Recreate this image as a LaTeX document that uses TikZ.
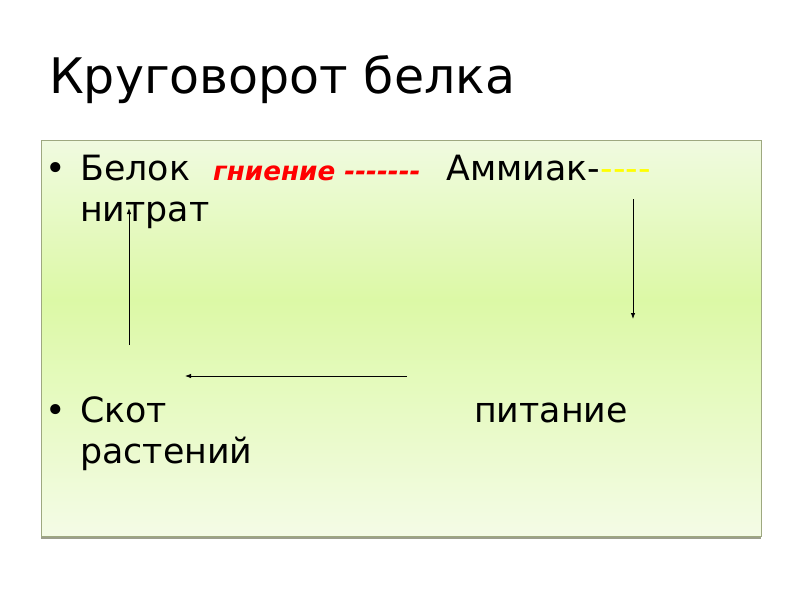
\documentclass[tikz,border=0pt]{standalone}
\usepackage{fontspec}
\setmainfont{DejaVu Sans}[Ligatures=TeXOff]
\usetikzlibrary{arrows.meta}
\definecolor{boxtop}{RGB}{240,250,224}
\definecolor{boxmid}{RGB}{220,249,166}
\definecolor{boxbot}{RGB}{244,251,230}
\definecolor{boxline}{RGB}{158,168,128}
\definecolor{boxshadow}{RGB}{156,159,140}
\definecolor{rotred}{RGB}{255,0,0}
\definecolor{dashyellow}{RGB}{255,255,0}
\begin{document}
\begin{tikzpicture}
[x=1pt,y=-1pt,
word/.style={anchor=base west,inner sep=0pt,font=\fontsize{34.8}{40}\selectfont},
heading/.style={anchor=base west,inner sep=0pt,font=\fontsize{49}{58}\selectfont},
rot/.style={anchor=base west,inner sep=0pt,text=rotred,font=\fontsize{26.2}{30}\selectfont\bfseries\itshape},
arr/.style={line width=0.8pt,-{Latex[length=6pt,width=4.5pt]}}]
\useasboundingbox (0,0) rectangle (800,600);
% slide box
\fill[boxshadow] (41,535) rectangle (761,539);
\shade[top color=boxtop,bottom color=boxmid] (41,140) rectangle (761,300);
\shade[top color=boxmid,bottom color=boxbot] (41,300) rectangle (761,536);
\draw[boxline,line width=0.9pt] (41,140) rectangle (761,536);
% title
\node[heading](title) at (49,93){Круговорот белка};
% first bullet
\node[word](b1) at (45,180){•};
\node[word](belok) at (80,180){Белок};
\node[rot](gnie) at (213,180){гниение -------};
\node[word](amm) at (446,180){Аммиак-};
\node[word,text=dashyellow,anchor=base west](ydash) at (amm.base east){----};
\node[word](nitr) at (80,221){нитрат};
% second bullet
\node[word](b2) at (45,422){•};
\node[word](skot) at (80,422){Скот};
\node[word](pit) at (474,422){питание};
\node[word](rast) at (80,463){растений};
% arrows
\coordinate (upA) at (129,345); \coordinate (upB) at (129,208);
\coordinate (dnA) at (633,199); \coordinate (dnB) at (633,319);
\coordinate (lfA) at (407,376); \coordinate (lfB) at (185,376);
\draw[arr] (upA) -- (upB);
\draw[arr] (dnA) -- (dnB);
\draw[arr] (lfA) -- (lfB);
\end{tikzpicture}
\end{document}
